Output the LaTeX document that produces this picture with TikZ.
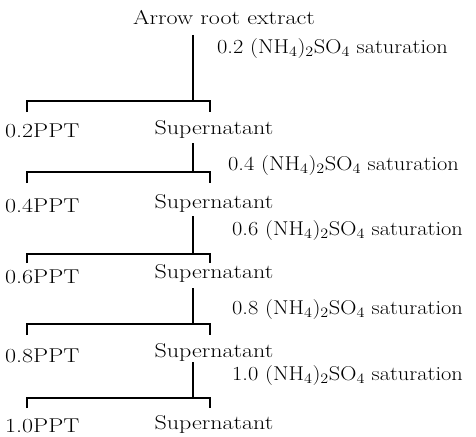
\documentclass[tikz,border=0pt]{standalone}
\usepackage{graphicx}
\newcommand{\wtxt}[1]{\scalebox{1.2}[1]{#1}}
\newcommand{\ctxt}[1]{\scalebox{1.12}[1]{#1}}
\tikzset{
  txt/.style={inner sep=0pt, font=\fontsize{20}{23}\selectfont},
  ln/.style={line width=1.3pt},
}
\begin{document}
\begin{tikzpicture}[x=1pt,y=-1pt]
\useasboundingbox (0,0) rectangle (476,436);
% texts
\node[txt,anchor=base] (root) at (224,25) {\wtxt{Arrow root extract}};
\node[txt,anchor=base west] (c1) at (217,53) {\ctxt{0.2 (NH$_4$)$_2$SO$_4$ saturation}};
\node[txt,anchor=base west] (p1) at (5,137) {\wtxt{0.2PPT}};
\node[txt,anchor=base] (s1) at (214,134) {\wtxt{Supernatant}};
\node[txt,anchor=base west] (c2) at (228,170) {\ctxt{0.4 (NH$_4$)$_2$SO$_4$ saturation}};
\node[txt,anchor=base west] (p2) at (5,212) {\wtxt{0.4PPT}};
\node[txt,anchor=base] (s2) at (214,208) {\wtxt{Supernatant}};
\node[txt,anchor=base west] (c3) at (232,235) {\ctxt{0.6 (NH$_4$)$_2$SO$_4$ saturation}};
\node[txt,anchor=base west] (p3) at (5,283) {\wtxt{0.6PPT}};
\node[txt,anchor=base] (s3) at (214,278) {\wtxt{Supernatant}};
\node[txt,anchor=base west] (c4) at (232,314) {\ctxt{0.8 (NH$_4$)$_2$SO$_4$ saturation}};
\node[txt,anchor=base west] (p4) at (5,362) {\wtxt{0.8PPT}};
\node[txt,anchor=base] (s4) at (214,357) {\wtxt{Supernatant}};
\node[txt,anchor=base west] (c5) at (232,380) {\ctxt{1.0 (NH$_4$)$_2$SO$_4$ saturation}};
\node[txt,anchor=base west] (p5) at (5,432) {\wtxt{1.0PPT}};
\node[txt,anchor=base] (s5) at (214,429) {\wtxt{Supernatant}};
% junction coordinates
\coordinate (t1) at (193,35);  \coordinate (j1) at (193,101);
\coordinate (t2) at (193,143); \coordinate (j2) at (193,172);
\coordinate (t3) at (193,216); \coordinate (j3) at (193,254);
\coordinate (t4) at (193,288); \coordinate (j4) at (193,324);
\coordinate (t5) at (193,362); \coordinate (j5) at (193,398);
% connectors
\draw[ln] (t1) -- (j1);
\draw[ln] (27,112) -- (27,101) -- (210,101) -- (210,112);
\draw[ln] (t2) -- (j2);
\draw[ln] (27,183) -- (27,172) -- (210,172) -- (210,183);
\draw[ln] (t3) -- (j3);
\draw[ln] (27,263) -- (27,254) -- (210,254) -- (210,263);
\draw[ln] (t4) -- (j4);
\draw[ln] (27,335) -- (27,324) -- (210,324) -- (210,335);
\draw[ln] (t5) -- (j5);
\draw[ln] (27,408) -- (27,398) -- (210,398) -- (210,408);
\end{tikzpicture}
\end{document}
